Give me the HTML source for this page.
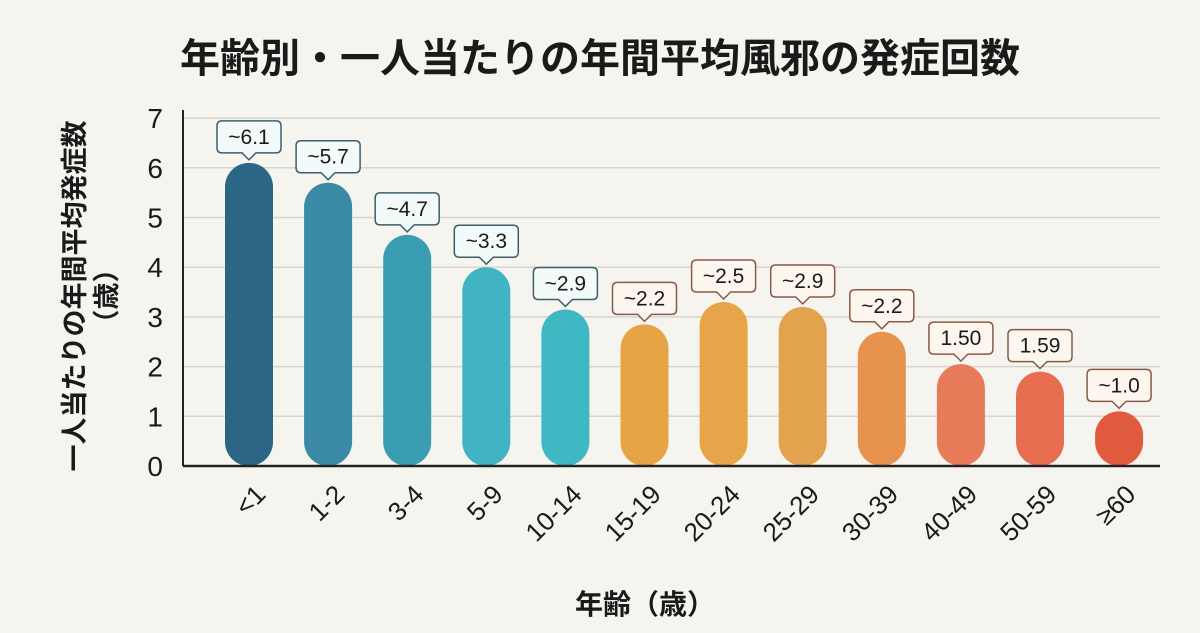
<!DOCTYPE html>
<html><head><meta charset="utf-8"><style>
body{margin:0;background:#f6f4ef;}
svg{display:block;font-family:"Liberation Sans","Noto Sans CJK JP",sans-serif;}
</style></head><body>
<svg id="c" width="1200" height="633" viewBox="0 0 1200 633">
<rect width="1200" height="633" fill="#f6f4ef"/>
<text x="600" y="72" text-anchor="middle" font-size="40" font-weight="bold" fill="#1a1a1a">年齢別・一人当たりの年間平均風邪の発症回数</text>
<g id="grid"></g>
<g id="bars"></g>
<g id="ticks"></g>
<g id="xl"></g>
<line x1="183" y1="110" x2="183" y2="466" stroke="#222" stroke-width="2"/>
<line x1="183" y1="466" x2="1160" y2="466" stroke="#222" stroke-width="2.5"/>
<text transform="translate(84,296) rotate(-90)" text-anchor="middle" font-size="27" font-weight="bold" fill="#1a1a1a">一人当たりの年間平均発症数</text>
<text transform="translate(116,296) rotate(-90)" text-anchor="middle" font-size="27" font-weight="bold" fill="#1a1a1a">（歳）</text>
<text x="645" y="614" text-anchor="middle" font-size="28" font-weight="bold" fill="#1a1a1a">年齢（歳）</text>
</svg>
<script>
const categories=["<1","1-2","3-4","5-9","10-14","15-19","20-24","25-29","30-39","40-49","50-59","≥60"];
const values=[6.1,5.7,4.65,4.0,3.15,2.85,3.3,3.2,2.7,2.05,1.9,1.1];
const valueLabels=["~6.1","~5.7","~4.7","~3.3","~2.9","~2.2","~2.5","~2.9","~2.2","1.50","1.59","~1.0"];
const yTicks=[0,1,2,3,4,5,6,7];
const colors=["#2b6684","#3a8aa5","#3a9db1","#40b4c2","#3fb8c4","#e7a445","#e5a548","#e3a34e","#e7934e","#e77a58","#e66d50","#e05a3e"];
const NS="http://www.w3.org/2000/svg";
const y=v=>466-v*49.7;
const x=i=>249+i*79.1;
const svg=document.getElementById('c');
function mk(t,a,p){const e=document.createElementNS(NS,t);for(const k in a)e.setAttribute(k,a[k]);p.appendChild(e);return e;}
const grid=document.getElementById('grid'),ticks=document.getElementById('ticks'),bars=document.getElementById('bars'),xl=document.getElementById('xl');
yTicks.forEach(t=>{
 if(t>0){const g=mk('line',{x1:183,x2:1160,y1:y(t),y2:y(t),stroke:'#d6d4cf','stroke-width':1.5},grid);
 
 }
 const tx=mk('text',{x:163,y:y(t)+10,'text-anchor':'end','font-size':28,fill:'#1a1a1a'},ticks);tx.textContent=t;
 
 
});
values.forEach((v,i)=>{
 const w=48,top=y(v),h=466-top;
 const r=mk('rect',{x:x(i)-w/2,y:top,width:w,height:h,rx:24,ry:Math.min(24,h/2),fill:colors[i]},bars);
 
 
 const bc=i<5?'#3d5f6a':'#8a5a48';
 const bw=64,bh=32,bb=top-10;
 const g=mk('g',{},bars);
 
 
 const cx=x(i);
 mk('path',{d:`M${cx-bw/2+5},${bb-bh} h${bw-10} q5,0 5,5 v${bh-10} q0,5 -5,5 h-${bw/2-12} l-7,7 l-7,-7 h-${bw/2-12} q-5,0 -5,-5 v-${bh-10} q0,-5 5,-5z`,fill:i<5?'#f3fafa':'#fdf6ef',stroke:bc,'stroke-width':1.5},g);
 const t=mk('text',{x:cx,y:bb-9,'text-anchor':'middle','font-size':21,fill:'#1a1a1a'},g);t.textContent=valueLabels[i];
 const l=mk('text',{transform:`translate(${cx+18},${496}) rotate(-45)`,'text-anchor':'end','font-size':26,fill:'#1a1a1a'},xl);l.textContent=categories[i];
 
 
});
</script>
</body></html>
